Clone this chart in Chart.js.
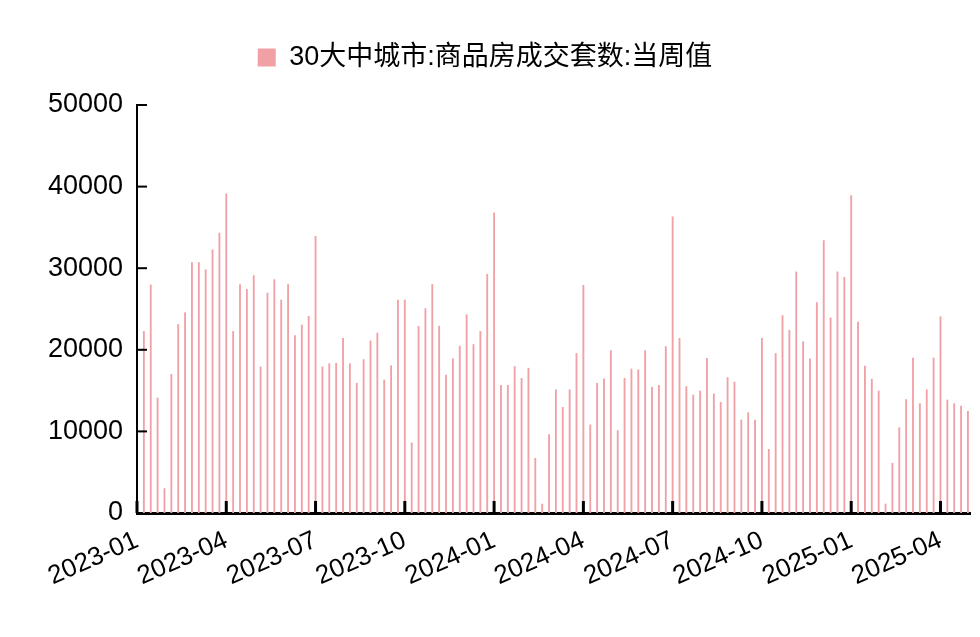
<!DOCTYPE html>
<html>
<head>
<meta charset="utf-8">
<script src="https://cdn.jsdelivr.net/npm/chart.js@4"></script>
<style>
  body { margin: 0; background: #fff; }
  #wrap { width: 980px; height: 637px; }
</style>
</head>
<body>
<div id="wrap"><canvas id="chart"></canvas></div>
<script>
const seriesName = '30大中城市:商品房成交套数:当周值';
// weekly values, first week of 2023 onwards
const weekly = [
  22250, 27960, 14100, 3000, 17000, 23100, 24550, 30700, 30700, 29800, 32250, 34300, 39100,
  22250, 28000, 27400, 29100, 17900, 26950, 28600, 26100, 28000, 21750, 23050, 24100, 33900,
  17900, 18300, 18350, 21400, 18300, 15900, 18800, 21100, 22050, 16300, 18050, 26100, 26100,
  8600, 22900, 25050, 28000, 22900, 16900, 18900, 20450, 24300, 20650, 22250, 29250, 36800,
  15650, 15650, 17950, 16500, 17750, 6700, 1100, 9600, 15100, 12950, 15100, 19550, 27900,
  10800, 15900, 16450, 19900, 10100, 16500, 17650, 17550, 19900, 15400, 15650, 20400, 36300,
  21400, 15500, 14450, 14950, 18950, 14600, 13550, 16600, 16050, 11400, 12300, 11400, 21400,
  7800, 19550, 24200, 22400, 29550, 21000, 18900, 25800, 33400, 23900, 29550, 28900, 38900,
  23400, 18000, 16400, 14950, 1100, 6100, 10450, 13900, 19000, 13400, 15100, 19000, 24050,
  13850, 13400, 13100, 12450
];
const tickLabels = ['2023-01', '2023-04', '2023-07', '2023-10', '2024-01', '2024-04',
                    '2024-07', '2024-10', '2025-01', '2025-04'];
const tickWeeks = [-1, 12, 25, 38, 51, 64, 77, 90, 103, 116];

const points = weekly.map((v, i) => ({ x: i, y: v }));

// extra gap between legend and plot
const legendGap = {
  id: 'legendGap',
  beforeLayout(chart) {
    const l = chart.legend;
    if (l && !l._gapped) {
      const fit = l.fit.bind(l);
      l.fit = () => { fit(); l.height += 24; };
      l._gapped = true;
    }
  }
};

const tickMarks = {
  id: 'tickMarks',
  afterDraw(chart) {
    const { ctx, scales: { x, y } } = chart;
    ctx.save();
    ctx.fillStyle = '#000';
    tickWeeks.forEach(w => {
      const px = x.getPixelForValue(w);
      ctx.fillRect(px - 1.5, y.bottom - 12, 3, 12);
    });
    for (let v = 10000; v <= 50000; v += 10000) {
      const py = y.getPixelForValue(v);
      ctx.fillRect(x.left, py - 1, 10, 2);
    }
    ctx.restore();
  }
};

new Chart(document.getElementById('chart'), {
  type: 'bar',
  data: {
    datasets: [{
      label: seriesName,
      data: points,
      backgroundColor: '#f1a0a6',
      borderWidth: 0,
      barThickness: 1.2
    }]
  },
  plugins: [legendGap, tickMarks],
  options: {
    responsive: true,
    maintainAspectRatio: false,
    animation: false,
    layout: { padding: { top: 14, right: 10, left: 0, bottom: 0 } },
    plugins: {
      tooltip: { enabled: false },
      legend: {
        position: 'top',
        labels: {
          font: { size: 27, family: 'Liberation Sans, Noto Sans CJK SC' },
          color: '#000',
          boxWidth: 18,
          boxHeight: 18,
          padding: 30
        }
      }
    },
    scales: {
      x: {
        type: 'linear',
        min: -1,
        max: 120.3,
        offset: false,
        grid: { display: false, drawTicks: false },
        border: { color: '#000', width: 3 },
        afterBuildTicks: s => { s.ticks = tickWeeks.map(v => ({ value: v })); },
        afterFit: s => { s.height = 124; },
        ticks: {
          autoSkip: false,
          minRotation: 24,
          maxRotation: 24,
          padding: 12,
          color: '#000',
          font: { size: 26, family: 'Liberation Sans' },
          callback: v => tickLabels[tickWeeks.indexOf(v)]
        }
      },
      y: {
        min: 0,
        max: 50000,
        grid: { display: false, drawTicks: false },
        border: { color: '#000', width: 2 },
        afterFit: s => { s.width = 137; },
        ticks: {
          stepSize: 10000,
          padding: 14,
          color: '#000',
          font: { size: 27, family: 'Liberation Sans' },
          callback: v => String(v)
        }
      }
    }
  }
});
</script>
</body>
</html>
